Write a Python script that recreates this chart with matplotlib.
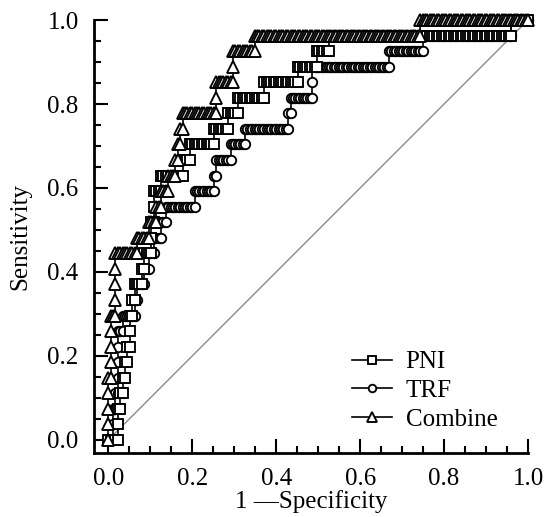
import numpy as np
import matplotlib.pyplot as plt
from matplotlib.ticker import MultipleLocator, FormatStrFormatter

plt.rcParams['font.family'] = ['Liberation Serif', 'DejaVu Serif']

# ROC data: 27 positives, ~175 negatives.
# For each sensitivity level k/27 the false-positive count where that level ends
# (the level starts where the previous one ended).
n_pos = 27
n_neg = 175

pni_fp_end = [4, 4, 5, 6, 7, 8, 9, 9, 10, 11, 14, 15, 18, 18, 19, 19,
              22, 31, 34, 44, 50, 54, 65, 79, 87, 92, 168, 175]
trf_fp_end = [2, 2, 3, 4, 4, 4, 4, 6, 11, 12, 15, 17, 19, 22, 24, 36,
              44, 45, 51, 57, 75, 76, 85, 85, 117, 131, 168, 175]
comb_fp_end = [0, 0, 0, 0, 1, 1, 1, 1, 3, 3, 3, 3, 12, 17, 20, 22,
               25, 28, 29, 30, 31, 45, 45, 52, 52, 61, 130, 175]

names = ["PNI", "TRF", "Combine"]
xticks = [0.0, 0.2, 0.4, 0.6, 0.8, 1.0]
yticks = [0.0, 0.2, 0.4, 0.6, 0.8, 1.0]


def roc_points(fp_end):
    # expand the run lengths into one ROC point per threshold
    xs, ys = [], []
    prev = 0
    for k, end in enumerate(fp_end):
        for fp in range(prev, end + 1):
            xs.append(fp / n_neg)
            ys.append(k / n_pos)
        prev = end
    return np.array(xs), np.array(ys)


fig = plt.figure(figsize=(5.46, 5.17), dpi=100)
ax = fig.add_axes([0.1722, 0.1238, 0.7949, 0.8375])

ax.plot([0, 1], [0, 1], color='#8c8c8c', lw=1.0, zorder=1)

series = {
    "PNI": (pni_fp_end, 's', 6.8, 4),
    "TRF": (trf_fp_end, 'o', 6.8, 3),
    "Combine": (comb_fp_end, '^', 8.3, 5),
}
handles = []
for name in names:
    ends, mk, ms, z = series[name]
    x, y = roc_points(ends)
    line, = ax.plot(x, y, color='black', lw=1.2, marker=mk, ms=ms, mfc='white',
                    mec='black', mew=1.35, label=name, clip_on=False, zorder=z)
    handles.append(line)

ax.set_xlim(-0.034, 1.0)
ax.set_ylim(-0.031, 1.0)
ax.set_xticks(xticks)
ax.set_yticks(yticks)
ax.xaxis.set_minor_locator(MultipleLocator(0.05))
ax.yaxis.set_minor_locator(MultipleLocator(0.05))
ax.xaxis.set_major_formatter(FormatStrFormatter('%.1f'))
ax.yaxis.set_major_formatter(FormatStrFormatter('%.1f'))
ax.tick_params(which='both', direction='in', width=1.5, labelsize=18, pad=11)
ax.tick_params(which='major', length=10)
ax.tick_params(which='minor', length=5)

for s in ['top', 'right']:
    ax.spines[s].set_visible(False)
for s in ['left', 'bottom']:
    ax.spines[s].set_linewidth(2)

ax.set_xlabel('1 \u2014Specificity', fontsize=18)
ax.set_ylabel('Sensitivity', fontsize=18)
ax.xaxis.set_label_coords(0.5, -0.085)
ax.yaxis.set_label_coords(-0.145, 0.5)

ax.legend(handles=handles, loc='upper left', bbox_to_anchor=(0.594, 0.236),
          frameon=False, fontsize=18, handlelength=1.6, handletextpad=0.55,
          labelspacing=0.25, borderpad=0, borderaxespad=0, markerscale=0.8)

fig.savefig('out.png', dpi=100)
